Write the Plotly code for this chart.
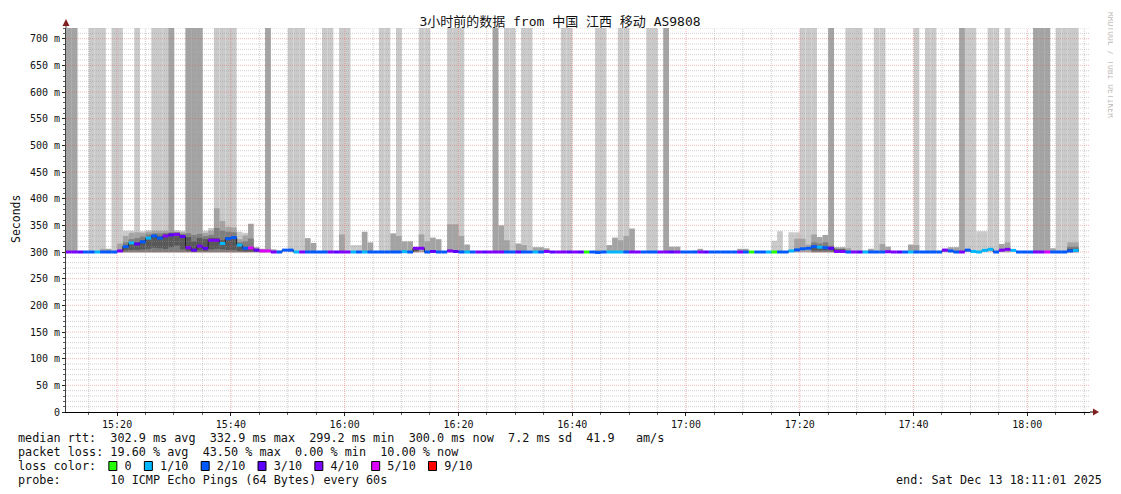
import datetime as dt
import plotly.graph_objects as go

U = None   # no ping in that band for the minute
X = 999    # ping above the top of the graph

START = dt.datetime(2025, 12, 13, 15, 11, 1)
END = START + dt.timedelta(hours=3)
Y_TOP = 720
PING_FLOOR = 299.5

# one entry per minute, index 0 = 15:11
median_ms = [
    300, 300, 300, 300, 300, 300, 300, 300, 300, 302,
    310, 317, 315, 319, 326, 330, 326, 330, 332, 333,
    329, 308, 303.5, 311, 307, 322, 322, 316, 325, 327,
    313, 307, 307.5, 303.5, 302, 302, 300, 300, 303.5, 303.5,
    300, 300, 300, 300, 300, 300, 300, 300, 300, 300,
    300, 300, 300, 300, 300, 300, 300, 300, 300, 300.5,
    300, 307, 307, 300, 301, 300, 300, 302, 301, 300,
    300, 300, 300, 300, 300, 300, 300, 300, 300, 300,
    300, 300, 300, 300, 301, 300, 300, 300, 300, 300,
    300, 300, 300, 299.2, 300, 300, 300, 300, 300, 300,
    300, 300, 300, 300, 300, 300, 300, 300, 300, 300,
    300, 300, 300, 300, 300, 300, 300, 300, 300, 300,
    300, 300, 300, 300, 300, 300, 300, 302, 304, 306,
    307, 310, 309, 308, 307, 301, 301, 300, 300, 300,
    300, 300, 300, 300, 300.5, 300, 300, 300, 300, 300,
    300, 300, 300, 300, 303.5, 302, 300, 300, 303.5, 301,
    300, 303, 305, 300, 303.5, 305, 303, 300, 300, 300,
    300, 300, 300, 300, 300, 300, 302, 303,
]

loss = [
    4, 4, 3, 2, 2, 1, 2, 2, 2, 4,
    2, 1, 3, 2, 1, 2, 2, 4, 3, 4,
    3, 4, 3, 4, 3, 4, 4, 1, 2, 2,
    1, 2, 5, 3, 5, 5, 4, 2, 2, 2,
    1, 4, 2, 2, 2, 2, 4, 3, 4, 4,
    1, 2, 1, 2, 2, 2, 2, 2, 2, 1,
    2, 4, 4, 2, 3, 2, 2, 4, 3, 2,
    1, 2, 4, 3, 4, 4, 4, 2, 2, 3,
    2, 2, 1, 2, 4, 3, 4, 4, 3, 4,
    3, 0, 2, 2, 2, 1, 1, 1, 2, 4,
    4, 2, 2, 2, 4, 4, 3, 4, 2, 2,
    2, 4, 3, 2, 2, 2, 2, 2, 4, 2,
    0, 2, 2, 1, 0, 2, 2, 1, 2, 2,
    2, 2, 1, 2, 3, 4, 4, 2, 4, 3,
    1, 2, 2, 2, 4, 4, 3, 2, 1, 2,
    2, 2, 2, 2, 4, 2, 2, 4, 2, 1,
    1, 1, 1, 2, 4, 4, 1, 2, 2, 2,
    4, 4, 5, 2, 2, 2, 2, 1,
]

# highest ping (outer smoke band)
ping_top = [
    X, X, U, U, X, X, X, U, X, X,
    340, 340, X, 339, 341, X, X, X, X, 341,
    340, X, X, X, 340, 345, X, X, X, X,
    338, 336, U, U, U, X, U, 303, U, X,
    X, X, U, U, U, X, X, U, X, X,
    313, 313, U, U, U, X, X, U, X, U,
    U, U, X, X, U, U, U, X, X, X,
    U, U, U, U, U, X, U, X, X, U,
    X, X, U, U, U, U, U, X, X, U,
    U, U, 302, X, X, U, U, X, X, U,
    U, U, X, X, U, X, U, U, U, U,
    303, U, U, U, U, U, U, U, U, U,
    U, U, 302, 302, 321, 339, U, 337, 337, X,
    X, X, U, U, X, U, U, X, X, X,
    303, U, X, X, U, U, U, U, U, X,
    U, X, X, U, U, U, U, X, X, X,
    339, 339, X, X, U, X, U, U, U, U,
    X, X, X, U, X, X, X, X,
]

# second highest ping
ping_2nd = [
    X, X, U, U, U, U, 306, 306, U, 316,
    330, 336, 337, 336, 338, 340, 340, 340, X, 338,
    337, X, X, X, 336, 340, 382, 358, 347, 346,
    324, 331, 353, 309, 306, X, 305, U, U, U,
    U, U, 326, 317, U, U, U, U, 333, U,
    U, U, 338, 318, U, U, U, 335, 330, 320,
    320, 309, 333, 320, 327, 324, U, 352, 352, 330,
    314, U, U, U, U, X, 350, 322, U, 316,
    313, U, 309, 309, 307, U, U, U, U, U,
    U, U, U, 304, U, 313, 327, 322, 330, 344,
    U, U, U, U, U, X, 310, 310, U, U,
    U, 306, U, U, U, U, U, U, 306, 306,
    U, U, U, U, U, U, U, U, 325, 325,
    314, 333, 328, 332, X, 309, 309, 307, U, U,
    U, 306, U, 315, 310, U, U, U, 314, 313,
    U, U, U, U, 306, 309, 309, X, U, U,
    U, U, U, U, 315, 318, U, U, U, U,
    X, X, X, 307, U, U, 318, 318,
]

# third highest ping
ping_3rd = [
    U, U, U, U, U, U, U, U, U, U,
    318, 324, 326, 329, 333, 335, 335, 336, 337, 337,
    334, 335, 332, 334, 330, 332, 345, 340, 338, 337,
    318, 320, 325, 306, 304, U, U, U, U, U,
    U, U, U, U, U, U, U, U, U, U,
    U, U, U, U, U, U, U, U, U, U,
    U, 306, U, U, U, U, U, U, U, U,
    U, U, U, U, U, U, U, U, U, U,
    U, U, U, U, U, U, U, U, U, U,
    U, U, U, U, U, U, U, U, U, U,
    U, U, U, U, U, U, U, U, U, U,
    U, U, U, U, U, U, U, U, U, U,
    U, U, U, U, U, U, U, U, U, U,
    U, 318, 316, 318, 312, 306, 306, U, U, U,
    U, U, U, U, U, U, U, U, U, U,
    U, U, U, U, U, U, U, U, U, U,
    U, U, U, U, U, U, U, U, U, U,
    U, U, U, U, U, U, 310, 310,
]

# inner pings around the median (dark core)
core_lo = [
    U, U, U, U, U, U, U, U, U, U,
    303, 304, 304, 305, 306, 308, 307, 306, 309, 312,
    305, 302, 301, 303, 302, 305, 306, 305, 304, 304,
    302, 301, 301, 301, U, U, U, U, U, U,
    U, U, U, U, U, U, U, U, U, U,
    U, U, U, U, U, U, U, U, U, U,
    U, 302, U, U, U, U, U, U, U, U,
    U, U, U, U, U, U, U, U, U, U,
    U, U, U, U, U, U, U, U, U, U,
    U, U, U, U, U, U, U, U, U, U,
    U, U, U, U, U, U, U, U, U, U,
    U, U, U, U, U, U, U, U, U, U,
    U, U, U, U, U, U, U, U, U, U,
    U, 303, 303, 303, 303, 301, 301, U, U, U,
    U, U, U, U, U, U, U, U, U, U,
    U, U, U, U, U, U, U, U, U, U,
    U, U, U, U, U, U, U, U, U, U,
    U, U, U, U, U, U, 301, 301,
]
core_hi = [
    U, U, U, U, U, U, U, U, U, U,
    311, 318, 318, 322, 328, 332, 330, 333, 335, 335,
    331, 328, 320, 326, 324, 326, 326, 322, 328, 330,
    316, 310, 309, 305, U, U, U, U, U, U,
    U, U, U, U, U, U, U, U, U, U,
    U, U, U, U, U, U, U, U, U, U,
    U, 305, U, U, U, U, U, U, U, U,
    U, U, U, U, U, U, U, U, U, U,
    U, U, U, U, U, U, U, U, U, U,
    U, U, U, U, U, U, U, U, U, U,
    U, U, U, U, U, U, U, U, U, U,
    U, U, U, U, U, U, U, U, U, U,
    U, U, U, U, U, U, U, U, U, U,
    U, 312, 311, 310, 309, 305, 305, U, U, U,
    U, U, U, U, U, U, U, U, U, U,
    U, U, U, U, U, U, U, U, U, U,
    U, U, U, U, U, U, U, U, U, U,
    U, U, U, U, U, U, 306, 306,
]

LOSS_LEVELS = ["0", "1/10", "2/10", "3/10", "4/10", "5/10", "9/10"]
LOSS_COLORS = {0: "#26ff00", 1: "#00b8ff", 2: "#0059ff", 3: "#5e00ff",
               4: "#7e00ff", 5: "#dd00ff", 9: "#ff0000"}
SMOKE = ["#cacaca", "#a4a4a4", "#7e7e7e", "#585858"]
MONO = "DejaVu Sans Mono"

N = len(median_ms)
for arr in (loss, ping_top, ping_2nd, ping_3rd, core_lo, core_hi):
    assert len(arr) == N

slot_start = [START + dt.timedelta(minutes=i) for i in range(N + 1)]
slot_mid = [t + dt.timedelta(seconds=30) for t in slot_start[:N]]

# the page body has an 8px margin, so the figure is drawn 8px in from the corner
PAGE = 8
W, H = 1121 - PAGE, 494 - PAGE
# plot area, in window pixels
L, R, T, B = 66, 1090, 28, 412


def px(x):
    return (x - L) / (R - L)


def py(y):
    return (B - y) / (B - T)


fig = go.Figure()


def band(top, bottom, color):
    xs, bases, hs = [], [], []
    for i, v in enumerate(top):
        if v is None:
            continue
        lo = bottom[i] if isinstance(bottom, list) else bottom
        xs.append(slot_mid[i])
        bases.append(lo)
        hs.append(v - lo)
    fig.add_trace(go.Bar(x=xs, y=hs, base=bases, width=60000,
                         marker=dict(color=color, line=dict(width=0)),
                         hoverinfo="skip"))


band(ping_top, PING_FLOOR, SMOKE[0])
band(ping_2nd, PING_FLOOR, SMOKE[1])
band(ping_3rd, PING_FLOOR, SMOKE[2])
band(core_hi, core_lo, SMOKE[3])

# grid, drawn over the smoke like rrdtool does
minor_t, major_t = [], []
t = dt.datetime(2025, 12, 13, 15, 15)
while t < END:
    (major_t if t.minute % 20 == 0 else minor_t).append(t)
    t += dt.timedelta(minutes=5)
minor_v = [v for v in range(10, Y_TOP + 1, 10) if v % 50]
major_v = list(range(50, 701, 50))


def grid_trace(times, values, color):
    xs, ys = [], []
    for tt in times:
        xs += [tt, tt, None]
        ys += [0, Y_TOP, None]
    for v in values:
        xs += [START, END, None]
        ys += [v, v, None]
    fig.add_trace(go.Scatter(x=xs, y=ys, mode="lines", hoverinfo="skip",
                             line=dict(color=color, width=1, dash="1px,1px")))


grid_trace(minor_t, minor_v, "rgba(150,150,150,0.45)")
grid_trace(major_t, major_v, "rgba(230,90,90,0.45)")

# median: thin dark step line plus loss-coloured segments
fig.add_trace(go.Scatter(x=slot_start, y=median_ms + [median_ms[-1]], mode="lines",
                         line=dict(color="#202020", width=1, shape="hv"),
                         hoverinfo="skip"))
for lv, col in LOSS_COLORS.items():
    xs, ys = [], []
    for i, (m, l) in enumerate(zip(median_ms, loss)):
        if l == lv:
            xs += [slot_start[i], slot_start[i + 1], None]
            ys += [m, m, None]
    if xs:
        fig.add_trace(go.Scatter(x=xs, y=ys, mode="lines", hoverinfo="skip",
                                 line=dict(color=col, width=3)))

fig.update_layout(
    width=W, height=H,
    margin=dict(l=L - PAGE, r=W - (R - PAGE), t=T - PAGE, b=H - (B - PAGE)),
    paper_bgcolor="white", plot_bgcolor="white",
    showlegend=False, barmode="overlay",
    font=dict(family=MONO, color="#111"),
    title=dict(text="3小时前的数据 from 中国 江西 移动 AS9808",
               x=(560 - PAGE) / W, xanchor="center", y=1 - (21 - PAGE) / H, yanchor="middle",
               font=dict(family=MONO + ", Noto Sans CJK SC", size=13, color="#111")),
)
fig.update_xaxes(
    type="date", range=[START, END], showgrid=False, zeroline=False,
    tick0="2025-12-13 15:20:00", dtick=1200000, tickformat="%H:%M",
    ticks="outside", ticklen=3, tickcolor="#202020",
    minor=dict(dtick=300000, ticks="outside", ticklen=2, tickcolor="#606060", showgrid=False),
    showline=True, linecolor="#000", linewidth=1, layer="above traces",
    tickfont=dict(family=MONO, size=10, color="#111"),
)
fig.update_yaxes(
    range=[0, Y_TOP], showgrid=False, zeroline=False,
    tickvals=[v for v in range(0, 701, 50)],
    ticktext=["0"] + [f"{v} m" for v in range(50, 701, 50)],
    ticks="outside", ticklen=3, tickcolor="#202020",
    minor=dict(dtick=10, ticks="outside", ticklen=2, tickcolor="#606060", showgrid=False),
    showline=True, linecolor="#404040", linewidth=1, layer="above traces",
    tickfont=dict(family=MONO, size=10, color="#111"),
)

ARROW = "#801f1f"
# axis extensions and arrow heads
fig.add_shape(type="line", xref="paper", yref="paper", x0=px(66), x1=px(66),
              y0=1, y1=py(23), line=dict(color="#404040", width=1))
fig.add_shape(type="path", xref="paper", yref="paper", fillcolor=ARROW, line=dict(width=0),
              path=f"M {px(62.5)} {py(26)} L {px(69.5)} {py(26)} L {px(66)} {py(19)} Z")
fig.add_shape(type="line", xref="paper", yref="paper", x0=1, x1=px(1094),
              y0=0, y1=0, line=dict(color="#000", width=1))
fig.add_shape(type="path", xref="paper", yref="paper", fillcolor=ARROW, line=dict(width=0),
              path=f"M {px(1093)} {py(408.5)} L {px(1093)} {py(415.5)} L {px(1099)} {py(412)} Z")


def note(text, x, y, size=11.8, anchor="left", color="#111", angle=0):
    fig.add_annotation(text=text.replace(" ", "\u00a0"), xref="paper", yref="paper",
                       x=px(x), y=py(y), xanchor=anchor, yanchor="middle",
                       showarrow=False, textangle=angle,
                       font=dict(family=MONO, size=size, color=color))


note("Seconds", 16, 219, size=11.5, anchor="center", angle=-90)
note("RRDTOOL / TOBI OETIKER", 1110, 65, size=8, anchor="center", color="#c0c0c0", angle=90)

note("median rtt:  302.9 ms avg  332.9 ms max  299.2 ms min  300.0 ms now  7.2 ms sd  41.9   am/s", 16, 438)
note("packet loss: 19.60 % avg  43.50 % max  0.00 % min  10.00 % now", 16, 452)

loss_line = "loss color:  "
box_idx = []
for lab in LOSS_LEVELS:
    box_idx.append(len(loss_line))
    loss_line += "  " + lab + ("  " if lab != LOSS_LEVELS[-1] else "")
note(loss_line, 16, 466)
cw = 0.602 * 11.8
for k, lab in zip(box_idx, LOSS_LEVELS):
    lv = int(lab.split("/")[0])
    x0 = 16 + k * cw + 0.5
    fig.add_shape(type="rect", xref="paper", yref="paper",
                  x0=px(x0), x1=px(x0 + 8), y0=py(470.5), y1=py(461.5),
                  fillcolor=LOSS_COLORS[lv], line=dict(color="#000", width=1))

note("probe:       10 ICMP Echo Pings (64 Bytes) every 60s", 16, 480)
note("end: Sat Dec 13 18:11:01 2025", 1104, 480, anchor="right")

fig.write_html("out.html")
